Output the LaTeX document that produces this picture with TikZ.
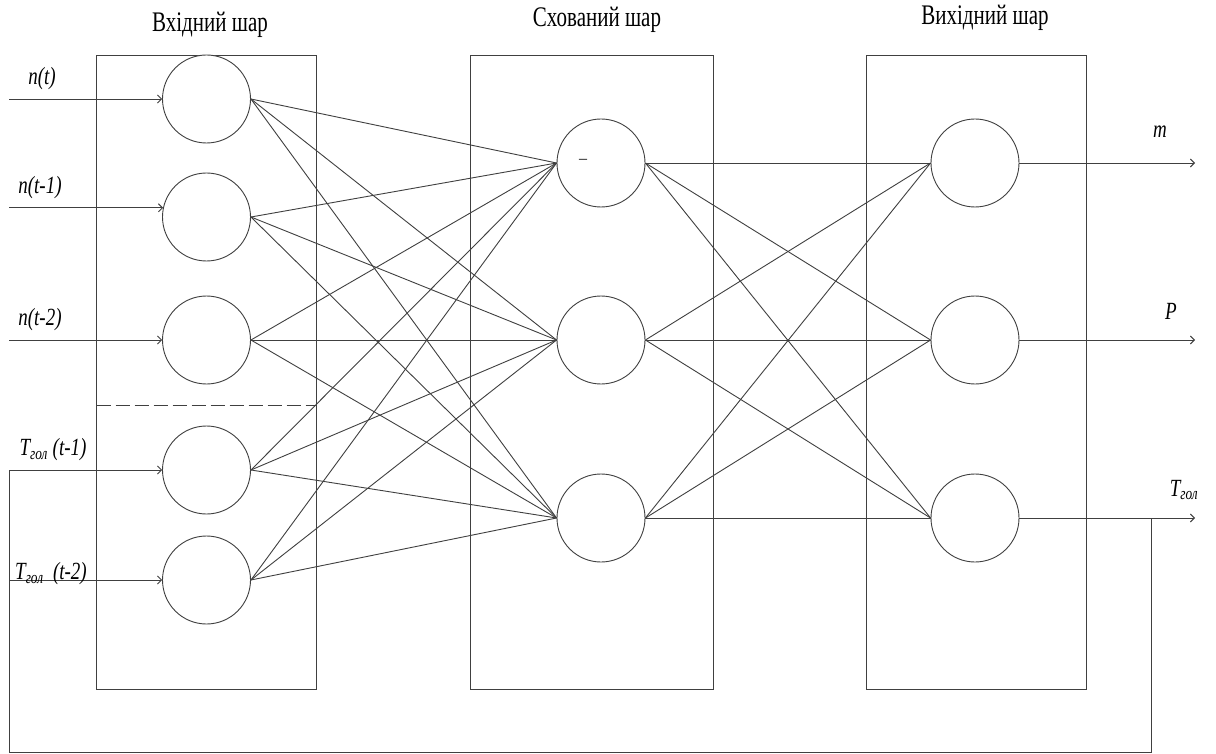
\documentclass[tikz,border=0pt]{standalone}
\usepackage{fontspec}
\setmainfont{Liberation Serif}
\usetikzlibrary{arrows.meta}
\begin{document}
\begin{tikzpicture}[x=1pt,y=-1pt,
  ln/.style={draw=black!75, line width=0.9pt},
  neuron/.style={circle, draw=black!75, line width=0.9pt, minimum size=88pt, inner sep=0pt},
  layerbox/.style={draw=black!75, line width=0.9pt},
  arr/.style={ln, -{Straight Barb[length=4pt,width=8pt]}},
  ttl/.style={font=\fontsize{21}{24}\selectfont, inner sep=0pt},
  lbl/.style={font=\fontsize{19}{22}\selectfont\itshape, inner sep=0pt}
]
\useasboundingbox (0,0) rectangle (1216,754);
\fill[white] (0,0) rectangle (1216,754);

% layer boxes
\node[layerbox, minimum width=220pt, minimum height=634pt, inner sep=0pt] (inbox) at (206.5,372) {};
\node[layerbox, minimum width=243pt, minimum height=634pt, inner sep=0pt] (hidbox) at (591.5,372) {};
\node[layerbox, minimum width=220pt, minimum height=634pt, inner sep=0pt] (outbox) at (976,372) {};

% titles
\node[ttl] (t1) at (210,25) {\scalebox{1}[1.35]{Вхідний шар}};
\node[ttl] (t2) at (597,20) {\scalebox{1}[1.35]{Схований шар}};
\node[ttl] (t3) at (985,18) {\scalebox{1}[1.35]{Вихідний шар}};

% dashed separator
\coordinate (dl) at (96.5,405);
\coordinate (dr) at (316.5,405);
\draw[ln, dash pattern=on 14pt off 5pt] (dl) -- (dr);

% input neurons
\node[neuron, fill=white] (i1) at (206.5,99) {};
\node[neuron, fill=white] (i2) at (206.5,217) {};
\node[neuron, fill=white] (i3) at (206.5,340) {};
\node[neuron, fill=white] (i4) at (206.5,470) {};
\node[neuron, fill=white] (i5) at (206.5,580) {};

% hidden neurons
\node[neuron] (h1) at (601,163) {};
\node[neuron] (h2) at (601,340) {};
\node[neuron] (h3) at (601,518) {};
\node[font=\fontsize{16}{18}\selectfont, inner sep=0pt] (hdash) at (583,161) {–};

% output neurons
\node[neuron] (o1) at (975,163) {};
\node[neuron] (o2) at (975,340) {};
\node[neuron] (o3) at (975,518) {};

% connections input -> hidden
\foreach \i in {1,...,5}{
  \foreach \h in {1,2,3}{
    \draw[ln] (i\i.east) -- (h\h.west);
  }
}
% connections hidden -> output
\foreach \h in {1,2,3}{
  \foreach \o in {1,2,3}{
    \draw[ln] (h\h.east) -- (o\o.west);
  }
}

% input arrows
\coordinate (lx) at (9,0);
\draw[arr] (lx |- i1.west) -- (i1.west);
\draw[arr] (lx |- i2.168) -- (i2.168);
\draw[arr] (lx |- i3.west) -- (i3.west);
\draw[arr] (lx |- i4.west) -- (i4.west);
\draw[arr] (lx |- i5.west) -- (i5.west);

% input labels
\node[lbl] (ln1) at (42,79) {\scalebox{1}[1.3]{n(t)}};
\node[lbl] (ln2) at (40,188) {\scalebox{1}[1.3]{n(t-1)}};
\node[lbl] (ln3) at (40,320) {\scalebox{1}[1.3]{n(t-2)}};
\node[lbl] (ln4) at (53,450) {\scalebox{1}[1.3]{T\textsubscript{гол}\ (t-1)}};
\node[lbl] (ln5) at (51,574) {\scalebox{1}[1.3]{T\textsubscript{гол}\ \ (t-2)}};

% output arrows
\coordinate (rx) at (1195,0);
\draw[arr] (o1.east) -- (rx |- o1.east);
\draw[arr] (o2.east) -- (rx |- o2.east);
\draw[arr] (o3.east) -- (rx |- o3.east);

% output labels
\node[lbl] (lm) at (1160,132) {\scalebox{1}[1.3]{m}};
\node[lbl] (lp) at (1171,311) {\scalebox{1}[1.3]{P}};
\node[lbl] (lt) at (1184,490) {\scalebox{1}[1.3]{T\textsubscript{гол}}};

% feedback loop
\coordinate (fj) at (1151,0);
\coordinate (fb) at (1151,752.5);
\coordinate (fl) at (9,752.5);
\draw[ln] (fj |- o3.east) -- (fb) -- (fl) -- (lx |- i4.west);
\end{tikzpicture}
\end{document}
